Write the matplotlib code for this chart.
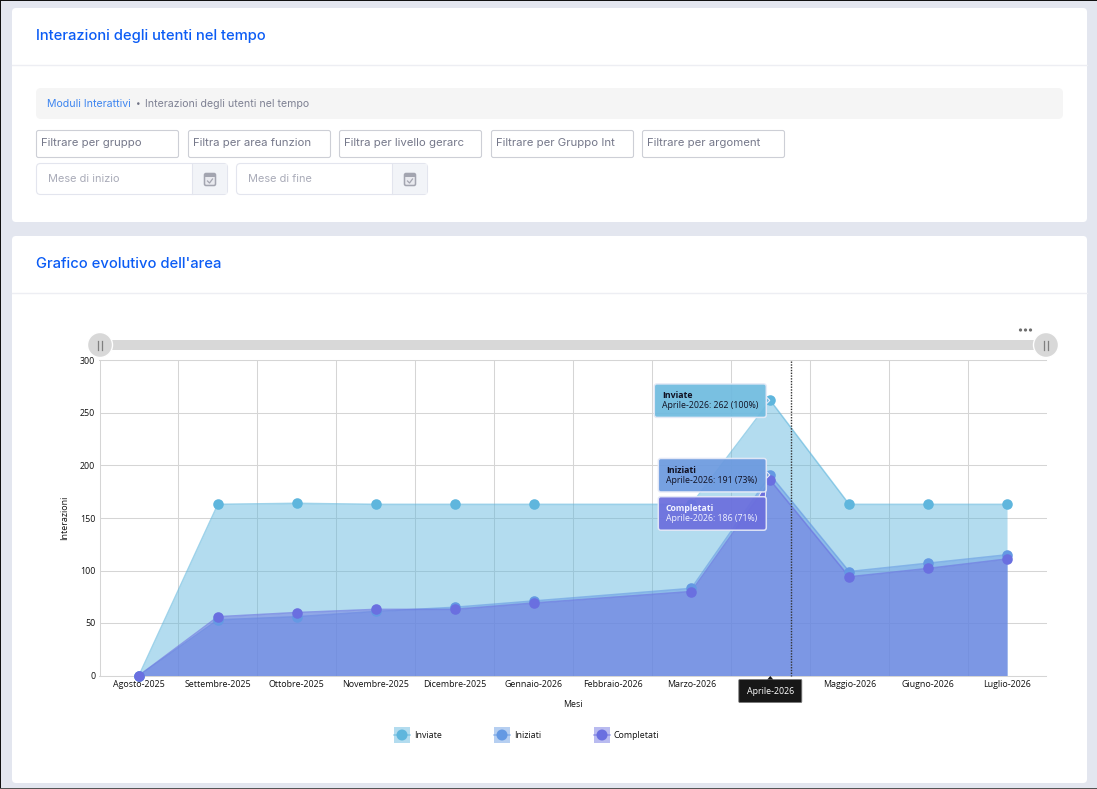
import matplotlib
matplotlib.use("Agg")
import matplotlib.pyplot as plt
from matplotlib.patches import FancyBboxPatch, Rectangle, Circle, Polygon

W = 1097
H = 789

# chart data, None = month without data point
months = ["Agosto-2025", "Settembre-2025", "Ottobre-2025", "Novembre-2025", "Dicembre-2025", "Gennaio-2026",
          "Febbraio-2026", "Marzo-2026", "Aprile-2026", "Maggio-2026", "Giugno-2026", "Luglio-2026"]
inviate = [0, 163, 164, 163, 163, 163, None, 163, 262, 163, 163, 163]
iniziati = [0, 53, 56, 61, 65, 71, None, 83, 191, 99, 107, 115]
completati = [0, 56, 60, 63, 63, 69, None, 80, 186, 94, 102, 111]
series_names = ["Inviate", "Iniziati", "Completati"]
series_colors = ["#5FB6DD", "#6499E3", "#6A6FE0"]
y_ticks = [0, 50, 100, 150, 200, 250, 300]
hover_index = 8

filters = ["Filtrare per gruppo", "Filtra per area funzion", "Filtra per livello gerarc",
           "Filtrare per Gruppo Int", "Filtrare per argoment"]
filter_left = [36, 188, 339, 491, 642]
dates = ["Mese di inizio", "Mese di fine"]
date_left = [36, 236]

UI_FONT = ["Inter", "DejaVu Sans"]
CHART_FONT = ["Open Sans", "DejaVu Sans"]
TEXT_COL = "#111111"

fig = plt.figure(figsize=(W / 100, H / 100), dpi=100, facecolor="#E3E6EF")

page = fig.add_axes([0, 0, 1, 1], zorder=0)
page.set_xlim(0, W)
page.set_ylim(H, 0)
page.axis("off")


def box(a, x0, y0, x1, y1, fc, ec="none", r=3, lw=1, z=1, alpha=None):
    p = FancyBboxPatch((x0 + r, y0 + r), x1 - x0 - 2 * r, y1 - y0 - 2 * r, boxstyle="round,pad=%g,rounding_size=%g" % (r, r),
                       fc=fc, ec=ec, lw=lw, zorder=z, alpha=alpha)
    a.add_patch(p)
    return p


# window edges
page.add_patch(Rectangle((0, 0), W, 1, fc="#111111", ec="none"))
page.add_patch(Rectangle((0, 0), 1, H, fc="#111111", ec="none"))
page.add_patch(Rectangle((0, H - 1), W, 1, fc="#555555", ec="none"))

# cards
box(page, 12, 8, 1087, 222, "white", r=4)
box(page, 12, 236, 1087, 783, "white", r=4)
page.plot([12, 1087], [65, 65], color="#EDEEF3", lw=1)
page.plot([12, 1087], [293, 293], color="#EDEEF3", lw=1)

page.text(36, 36, "Interazioni degli utenti nel tempo", color="#0B5CF5", fontsize=10.6, fontweight="medium", va="center", family=UI_FONT)
page.text(36, 264.5, "Grafico evolutivo dell'area", color="#0B5CF5", fontsize=10.6, fontweight="medium", va="center", family=UI_FONT)

# breadcrumb
box(page, 36, 88, 1063, 119, "#F5F5F5", r=5)
page.text(47, 103.5, "Moduli Interattivi", color="#3D85F0", fontsize=7.6, va="center", family=UI_FONT)
page.text(136, 103.5, "•", color="#6F7285", fontsize=6, va="center", family=UI_FONT)
page.text(145, 103.5, "Interazioni degli utenti nel tempo", color="#7E8193", fontsize=7.6, va="center", family=UI_FONT)

# filter boxes
for left, label in zip(filter_left, filters):
    box(page, left + .5, 130.5, left + 142.5, 157.5, "white", ec="#CDCFD6", r=2, lw=.8)
    page.text(left + 5, 142.5, label, color="#75788A", fontsize=8.2, va="center", family=UI_FONT)

# date pickers
for left, label in zip(date_left, dates):
    box(page, left + .5, 163.5, left + 191.5, 194.5, "white", ec="#E3E5EE", r=4, lw=.8)
    page.add_patch(Rectangle((left + 156, 164), 35, 30, fc="#F2F4F8", ec="none", zorder=2))
    page.plot([left + 156, left + 156], [164, 194], color="#E3E5EE", lw=.8, zorder=3)
    page.text(left + 12, 178.5, label, color="#A9ABB8", fontsize=7.9, va="center", family=UI_FONT)
    # calendar icon
    cx = left + 174
    box(page, cx - 5.5, 173.5, cx + 5.5, 185.5, "#E9EAEF", ec="#A3A5B0", r=1.5, lw=1.1, z=4)
    page.add_patch(Rectangle((cx - 5.5, 173.5), 11, 3, fc="#A3A5B0", ec="none", zorder=5))
    page.plot([cx - 2.5, cx - .5, cx + 2.5], [181, 183, 179], color="#A3A5B0", lw=.9, zorder=5)

# range slider above the chart
page.add_patch(Rectangle((100, 340), 947, 10, fc="#D8D8D8", ec="none", zorder=2))
for hx in [100, 1046]:
    page.add_patch(Circle((hx, 345), 12.5, fc="#D8D8D8", ec="white", lw=1, zorder=3))
    page.plot([hx - 2, hx - 2], [340.5, 349.5], color="#808080", lw=.9, zorder=4)
    page.plot([hx + 1.5, hx + 1.5], [340.5, 349.5], color="#808080", lw=.9, zorder=4)
for dx in [1020.5, 1025.5, 1030.5]:
    page.add_patch(Circle((dx, 330), 1.6, fc="#6E6E6E", ec="none", zorder=4))

# chart
ax = fig.add_axes([99.5 / W, 1 - 675.5 / H, 947 / W, 315 / H], zorder=1)
ax.patch.set_alpha(0)
ax.set_xlim(-0.5, 11.5)
ax.set_ylim(0, 300)
ax.set_yticks(y_ticks)
ax.set_xticks(range(len(months)))
ax.set_xticklabels(months, fontsize=6.4, family=CHART_FONT, color=TEXT_COL)
ax.set_xticks([i + 0.5 for i in range(len(months) - 1)], minor=True)
ax.tick_params(axis="both", which="both", length=0)
ax.tick_params(axis="x", pad=3.4)
ax.tick_params(axis="y", pad=3, labelsize=6.4, labelcolor=TEXT_COL)
for t in ax.get_yticklabels():
    t.set_family(CHART_FONT)
ax.grid(True, axis="y", color="#D5D5D5", lw=.75, zorder=0)
ax.grid(True, axis="x", which="minor", color="#D5D5D5", lw=.75, zorder=0)
ax.grid(False, axis="x", which="major")
ax.spines["right"].set_visible(False)
for s in ["left", "top", "bottom"]:
    ax.spines[s].set_color("#D5D5D5")
    ax.spines[s].set_linewidth(.75)
ax.set_xlabel("Mesi", fontsize=6.4, family=CHART_FONT, color=TEXT_COL, labelpad=7.5)
ax.set_ylabel("Interazioni", fontsize=6.4, family=CHART_FONT, color=TEXT_COL, labelpad=7.5)

for i, (vals, col) in enumerate(zip([inviate, iniziati, completati], series_colors)):
    xs = [k for k, v in enumerate(vals) if v is not None]
    ys = [v for v in vals if v is not None]
    ax.fill_between(xs, 0, ys, color=col, alpha=0.47, lw=0, zorder=2 + i)
    ax.plot(xs, ys, color=col, alpha=0.6, lw=1.1, zorder=2 + i, solid_joinstyle="round")
    ax.plot(xs, ys, ls="none", marker="o", ms=7.6, mfc=col, mec="none", zorder=6 + i, clip_on=False)

# overlay for the hover state
top = fig.add_axes([0, 0, 1, 1], zorder=2)
top.set_xlim(0, W)
top.set_ylim(H, 0)
top.axis("off")


def to_page(x, y):
    px, py = ax.transData.transform((x, y))
    return px, H - py


def tooltip(name, value, color, y_off, width, text_col, tip=None):
    px, py = to_page(hover_index, value)
    x1 = px - 4
    x0 = x1 - width
    y0 = py + y_off
    box(top, x0, y0, x1, y0 + 33.5, color, ec="#E6EAF7", r=2.5, lw=1.1, z=5, alpha=0.93)
    pct = round(value / inviate[hover_index] * 100)
    top.text(x0 + 7.5, y0 + 12, name, fontsize=6.3, fontweight="bold", color=text_col, va="center", family=CHART_FONT, zorder=6)
    top.text(x0 + 7.5, y0 + 22, "%s: %d (%d%%)" % (months[hover_index], value, pct), fontsize=6.3, color=text_col,
             va="center", family=CHART_FONT, zorder=6)
    if tip is None:
        tip = [(x1, py - 3.5), (x1 + 3.5, py), (x1, py + 3.5)]
    top.add_patch(Polygon(tip, closed=True, fc=color, ec="#E6EAF7", lw=.8, zorder=4.5))


tooltip("Inviate", inviate[hover_index], "#6FBBDF", -16.5, 112, "#111122")
tooltip("Iniziati", iniziati[hover_index], "#6C9ADF", -16.5, 108, "#111122")
cx, cy = to_page(hover_index, completati[hover_index])
tooltip("Completati", completati[hover_index], "#6B6EDD", 16.5, 108, "#F2F3FF",
        tip=[(cx - 12, cy + 17), (cx - 4, cy + 3), (cx - 5, cy + 17)])

# hover cursor and its axis label
top.plot([791, 791], [361, 676], color="#333333", lw=1, ls=(0, (1, 1)), zorder=3)
ax_x, ax_y = to_page(hover_index, 0)
box(top, ax_x - 31.5, ax_y + 4, ax_x + 31.5, ax_y + 27, "#171717", ec="#777777", r=1, lw=.6, z=7)
top.add_patch(Polygon([(ax_x - 3, ax_y + 4), (ax_x, ax_y + 0.5), (ax_x + 3, ax_y + 4)], closed=True, fc="#171717", ec="none", zorder=7))
top.text(ax_x, ax_y + 16, months[hover_index], color="white", fontsize=6.4, ha="center", va="center", family=CHART_FONT, zorder=8)

# legend
for lx, name, col in zip([402, 502, 602], series_names, series_colors):
    top.add_patch(Rectangle((lx - 8, 727), 16, 16, fc=col, alpha=0.47, ec="none", zorder=3))
    top.plot([lx - 8, lx + 8], [735, 735], color=col, alpha=.6, lw=1.1, zorder=4)
    top.add_patch(Circle((lx, 735), 5.5, fc=col, ec="none", zorder=5))
    top.text(lx + 12, 735, name, fontsize=6.4, va="center", family=CHART_FONT, color=TEXT_COL, zorder=5)

fig.savefig("out.png", dpi=100, facecolor=fig.get_facecolor())
